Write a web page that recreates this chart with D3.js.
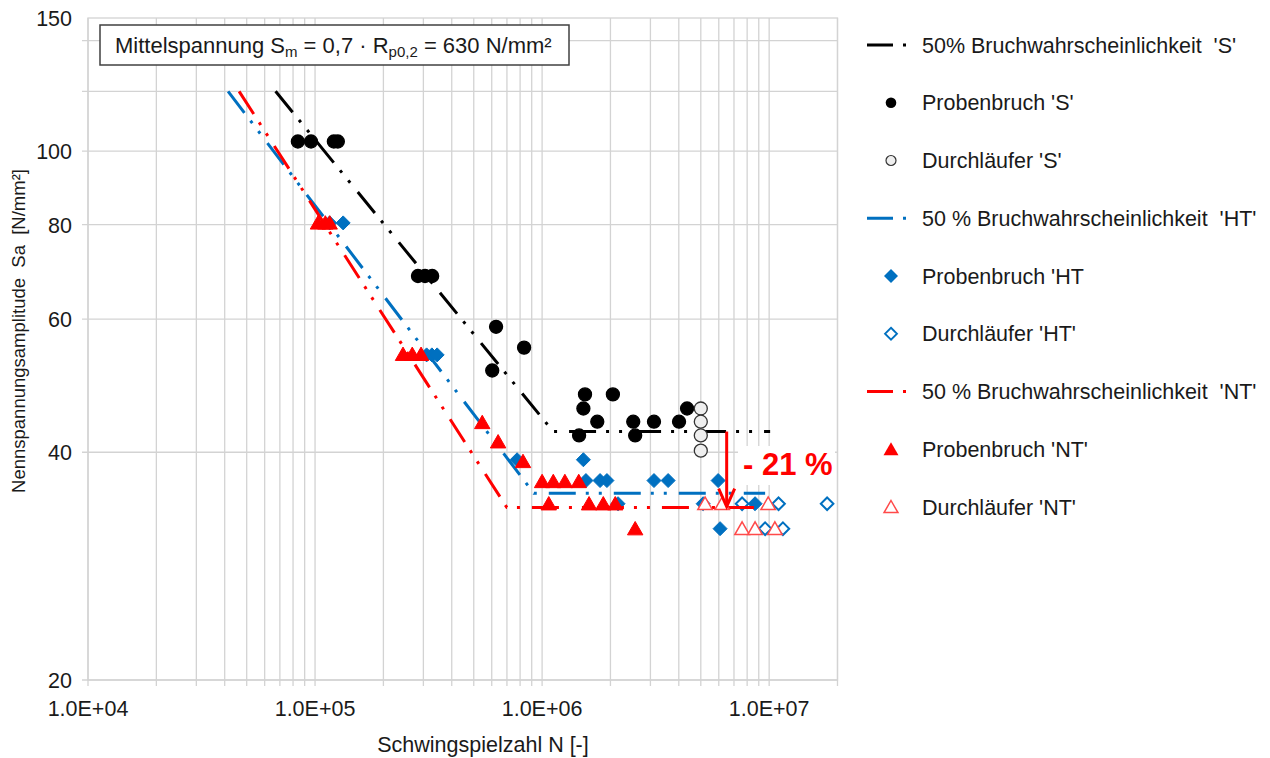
<!DOCTYPE html>
<html>
<head>
<meta charset="utf-8">
<script src="https://cdn.jsdelivr.net/npm/d3@7"></script>
<style>
  body { margin: 0; background: #fff; }
  svg { display: block; }
  text { font-family: "Liberation Sans", Arial, sans-serif; fill: #1a1a1a; }
</style>
</head>
<body>
<svg id="chart" width="1270" height="758"></svg>
<script>
// ---- axis ticks ----
const xTickValues = [1e4, 1e5, 1e6, 1e7];
const yTickLabels = [150, 100, 80, 60, 40, 20];
const yGridValues = [20, 40, 60, 80, 100, 120, 140];

// ---- 50 % fracture probability lines (start, knee, end) ----
const sLineN  = [6.7e4, 1.12e6, 1.01e7];
const sLineSa = [120, 42.6, 42.6];
const htLineN  = [4.14e4, 9.2e5, 9.6e6];
const htLineSa = [120, 35.3, 35.3];
const ntLineN  = [4.63e4, 7.0e5, 9.6e6];
const ntLineSa = [120, 33.8, 33.8];

// ---- specimen fractures 'S' ----
const sBreakN  = [8.4e4, 9.6e4, 1.21e5, 1.26e5, 2.84e5, 3.05e5, 3.28e5, 6.03e5, 6.27e5, 8.33e5,
                  1.455e6, 1.52e6, 1.545e6, 1.75e6, 2.05e6, 2.52e6, 2.57e6, 3.11e6, 4.01e6, 4.35e6];
const sBreakSa = [103, 103, 103, 103, 68.4, 68.4, 68.4, 51.3, 58.6, 55.0,
                  42.1, 45.7, 47.7, 43.9, 47.7, 43.9, 42.1, 43.9, 43.9, 45.7];
// ---- run-outs 'S' ----
const sRunN  = [5.0e6, 5.0e6, 5.0e6, 5.0e6];
const sRunSa = [45.7, 43.9, 42.1, 40.2];

// ---- specimen fractures 'HT' ----
const htBreakN  = [1.16e5, 1.33e5, 3.1e5, 3.27e5, 3.45e5, 7.76e5, 1.52e6,
                   1.56e6, 1.80e6, 1.93e6, 3.11e6, 3.59e6, 5.96e6,
                   2.16e6, 5.12e6, 8.67e6, 6.08e6];
const htBreakSa = [80.4, 80.4, 53.8, 53.8, 53.8, 39.1, 39.1,
                   36.7, 36.7, 36.7, 36.7, 36.7, 36.7,
                   34.2, 34.2, 34.2, 31.7];
// ---- run-outs 'HT' ----
const htRunN  = [7.6e6, 1.10e7, 1.80e7, 9.6e6, 1.15e7];
const htRunSa = [34.2, 34.2, 34.2, 31.7, 31.7];

// ---- specimen fractures 'NT' ----
const ntBreakN  = [1.03e5, 1.11e5, 1.16e5, 2.44e5, 2.68e5, 2.93e5, 5.45e5, 6.4e5, 8.24e5,
                   1.0e6, 1.12e6, 1.26e6, 1.45e6, 1.07e6, 1.61e6, 1.86e6, 2.10e6, 2.57e6];
const ntBreakSa = [80.4, 80.4, 80.4, 53.9, 53.9, 53.9, 43.8, 41.3, 38.9,
                   36.6, 36.6, 36.6, 36.6, 34.2, 34.2, 34.2, 34.2, 31.7];
// ---- run-outs 'NT' ----
const ntRunN  = [5.22e6, 6.21e6, 9.9e6, 7.6e6, 8.67e6, 1.06e7];
const ntRunSa = [34.2, 34.2, 34.2, 31.7, 31.7, 31.7];

// ---- legend ----
const legendLabels = [
  "50% Bruchwahrscheinlichkeit  'S'",
  "Probenbruch 'S'",
  "Durchläufer 'S'",
  "50 % Bruchwahrscheinlichkeit  'HT'",
  "Probenbruch 'HT",
  "Durchläufer 'HT'",
  "50 % Bruchwahrscheinlichkeit  'NT'",
  "Probenbruch 'NT'",
  "Durchläufer 'NT'"
];

const BLACK = "#000000", BLUE = "#0070C0", RED = "#FF0000";
const GRID = "#d3d3d3";
const DASH = "27,10,3,10,3,12";

const svg = d3.select("#chart");
const x = d3.scaleLog().domain([1e4, 2e7]).range([88, 837.5]);
const y = d3.scaleLog().domain([20, 150]).range([680, 18]);

// ---- grid ----
const xGridValues = [];
for (let e = 4; e <= 7; e++) for (let k = 1; k <= 9; k++) {
  const v = k * Math.pow(10, e);
  if (v <= 2e7) xGridValues.push(v);
}
const grid = svg.append("g");
grid.selectAll("line.vx").data(xGridValues).join("line")
  .attr("x1", d => x(d)).attr("x2", d => x(d))
  .attr("y1", y(150)).attr("y2", y(20) + 6)
  .attr("stroke", GRID).attr("stroke-width", 1.3);
grid.selectAll("line.hy").data(yGridValues).join("line")
  .attr("x1", x(1e4) - 6).attr("x2", x(2e7))
  .attr("y1", d => y(d)).attr("y2", d => y(d))
  .attr("stroke", GRID).attr("stroke-width", 1.3);
// plot frame
grid.append("rect")
  .attr("x", x(1e4)).attr("y", y(150))
  .attr("width", x(2e7) - x(1e4)).attr("height", y(20) - y(150))
  .attr("fill", "none").attr("stroke", GRID).attr("stroke-width", 1.3);

// ---- tick labels ----
const fmtX = v => "1.0E+" + String(Math.round(Math.log10(v))).padStart(2, "0");
svg.append("g").selectAll("text").data(xTickValues).join("text")
  .attr("x", d => x(d)).attr("y", 715.5)
  .attr("text-anchor", "middle").attr("font-size", 21.5)
  .text(fmtX);
svg.append("g").selectAll("text").data(yTickLabels).join("text")
  .attr("x", 72).attr("y", d => y(d) + 8)
  .attr("text-anchor", "end").attr("font-size", 21.5)
  .text(d => d);

// ---- axis titles ----
svg.append("text")
  .attr("x", 483).attr("y", 752)
  .attr("text-anchor", "middle").attr("font-size", 21.5)
  .text("Schwingspielzahl N [-]");
svg.append("text")
  .attr("transform", "translate(25,331) rotate(-90)")
  .attr("text-anchor", "middle").attr("font-size", 18.5)
  .style("white-space", "pre")
  .text("Nennspannungsamplitude  Sa  [N/mm²]");

// ---- annotation box ----
svg.append("rect")
  .attr("x", 100).attr("y", 25).attr("width", 469).attr("height", 40)
  .attr("fill", "#fff").attr("stroke", "#404040").attr("stroke-width", 1.5);
const ann = svg.append("text").attr("x", 115).attr("y", 53).attr("font-size", 22);
ann.append("tspan").text("Mittelspannung S");
ann.append("tspan").attr("font-size", 15).attr("dy", 4).text("m");
ann.append("tspan").attr("dy", -4).text(" = 0,7 · R");
ann.append("tspan").attr("font-size", 15).attr("dy", 4).text("p0,2");
ann.append("tspan").attr("dy", -4).style("white-space", "pre").text(" = 630 N/mm²");

// ---- marker shapes ----
const diamond = s => `M0,${-s}L${s},0L0,${s}L${-s},0Z`;
const triangle = s => `M0,${-s}L${s * 1.07},${s * 0.86}L${-s * 1.07},${s * 0.86}Z`;
const zip = (a, b) => a.map((v, i) => [v, b[i]]);
const lineGen = d3.line().x(d => x(d[0])).y(d => y(d[1]));

function drawLine(ns, sas, color) {
  svg.append("path").datum(zip(ns, sas))
    .attr("d", lineGen).attr("fill", "none")
    .attr("stroke", color).attr("stroke-width", 3)
    .attr("stroke-dasharray", DASH);
}
function drawCircles(ns, sas, fill, stroke) {
  svg.append("g").selectAll("circle").data(zip(ns, sas)).join("circle")
    .attr("cx", d => x(d[0])).attr("cy", d => y(d[1])).attr("r", 6.5)
    .attr("fill", fill).attr("stroke", stroke).attr("stroke-width", 1.3);
}
function drawPaths(ns, sas, shape, fill, stroke, sw) {
  svg.append("g").selectAll("path").data(zip(ns, sas)).join("path")
    .attr("transform", d => `translate(${x(d[0])},${y(d[1])})`)
    .attr("d", shape)
    .attr("fill", fill).attr("stroke", stroke).attr("stroke-width", sw);
}

// series 'S'
drawLine(sLineN, sLineSa, BLACK);
drawCircles(sBreakN, sBreakSa, BLACK, BLACK);
drawCircles(sRunN, sRunSa, "#efefef", "#333");
// series 'HT'
drawLine(htLineN, htLineSa, BLUE);
drawPaths(htBreakN, htBreakSa, diamond(7), BLUE, BLUE, 1);
drawPaths(htRunN, htRunSa, diamond(6.3), "#fff", BLUE, 2);
// series 'NT'
drawLine(ntLineN, ntLineSa, RED);
drawPaths(ntBreakN, ntBreakSa, triangle(7.2), RED, RED, 1);
drawPaths(ntRunN, ntRunSa, triangle(6.8), "#fff", "#ff4a4a", 1.5);

// ---- reduction arrow and label ----
const arrowX = x(6.5e6);
svg.append("line")
  .attr("x1", arrowX).attr("x2", arrowX)
  .attr("y1", y(42.6)).attr("y2", y(33.8) - 2)
  .attr("stroke", RED).attr("stroke-width", 3);
svg.append("path")
  .attr("d", `M${arrowX - 8},${y(33.8) - 19}L${arrowX},${y(33.8) - 1}L${arrowX + 8},${y(33.8) - 19}`)
  .attr("fill", "none").attr("stroke", RED).attr("stroke-width", 3);
svg.append("rect")
  .attr("x", 738).attr("y", 446).attr("width", 97).attr("height", 39)
  .attr("fill", "#fff");
svg.append("text")
  .attr("x", 743).attr("y", 475)
  .attr("font-size", 31).attr("font-weight", "bold")
  .style("fill", RED).style("white-space", "pre")
  .text("- 21 %");

// ---- legend ----
const lg = svg.append("g");
const rowY = i => 45 + i * 57.75;
legendLabels.forEach((label, i) => {
  lg.append("text")
    .attr("x", 922).attr("y", rowY(i) + 7.5)
    .attr("font-size", 21.5).style("white-space", "pre")
    .text(label);
});
const lineRows = [[0, BLACK], [3, BLUE], [6, RED]];
lineRows.forEach(([i, c]) => {
  lg.append("line")
    .attr("x1", 867).attr("x2", 909).attr("y1", rowY(i)).attr("y2", rowY(i))
    .attr("stroke", c).attr("stroke-width", 3)
    .attr("stroke-dasharray", "26,10,3,50");
});
lg.append("circle").attr("cx", 891).attr("cy", rowY(1)).attr("r", 5.3)
  .attr("fill", BLACK);
lg.append("circle").attr("cx", 891).attr("cy", rowY(2)).attr("r", 5)
  .attr("fill", "#efefef").attr("stroke", "#333").attr("stroke-width", 1.2);
lg.append("path").attr("transform", `translate(891,${rowY(4)})`).attr("d", diamond(7))
  .attr("fill", BLUE);
lg.append("path").attr("transform", `translate(891,${rowY(5)})`).attr("d", diamond(6))
  .attr("fill", "#fff").attr("stroke", BLUE).attr("stroke-width", 1.8);
lg.append("path").attr("transform", `translate(891,${rowY(7)})`).attr("d", triangle(7))
  .attr("fill", RED);
lg.append("path").attr("transform", `translate(891,${rowY(8)})`).attr("d", triangle(6.5))
  .attr("fill", "#fff").attr("stroke", "#ff4a4a").attr("stroke-width", 1.5);
</script>
</body>
</html>
